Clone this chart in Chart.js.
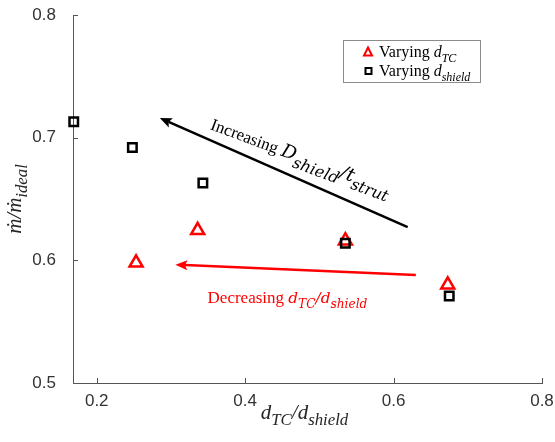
<!DOCTYPE html>
<html>
<head>
<meta charset="utf-8">
<script src="https://cdn.jsdelivr.net/npm/chart.js@4.4.1/dist/chart.umd.min.js"></script>
<style>
  html, body { margin: 0; padding: 0; background: #fff; }
  canvas { display: block; }
</style>
</head>
<body>
<canvas id="chart" width="555" height="442"></canvas>
<script>
// axis ticks
const xTicks = [0.2, 0.4, 0.6, 0.8];
const yTicks = [0.5, 0.6, 0.7, 0.8];

// varying d_TC (red triangles)
const dtcRatio = [0.253, 0.336, 0.535, 0.673];
const dtcFlow = [0.598, 0.6245, 0.616, 0.580];

// varying d_shield (black squares)
const shieldRatio = [0.169, 0.248, 0.343, 0.535, 0.675];
const shieldFlow = [0.713, 0.692, 0.663, 0.614, 0.571];

// trend arrows, [x, y] in data units
const strutArrowFrom = [0.619, 0.627];
const strutArrowTo = [0.285, 0.716];
const tcArrowFrom = [0.630, 0.588];
const tcArrowTo = [0.306, 0.5965];

// annotation anchors, [x, y] in data units
const strutLabelAt = [0.352, 0.707];
const tcLabelAt = [0.457, 0.565];

const SERIF = '"Liberation Serif", "Times New Roman", serif';
const WIDE_MATH = '"DejaVu Serif", serif';

// text style: size, plain family, math family, math scale, subscript scale and drop
const strutStyle = { size: 17, family: SERIF, math: WIDE_MATH, mathScale: 1.1, sub: 0.85, drop: 0.4 };
const tcStyle = { size: 17, family: SERIF, math: WIDE_MATH, mathScale: 0.9, sub: 0.8, drop: 0.3 };
const titleStyle = { size: 21, family: SERIF, math: SERIF, mathScale: 1, sub: 0.8, drop: 0.3 };
const legendStyle = { size: 16, family: SERIF, math: SERIF, mathScale: 1, sub: 0.75, drop: 0.3 };

function partFont(p, st) {
    let s = p.sub ? st.size * st.sub : st.size;
    if (p.it) s *= st.mathScale;
    return (p.it ? 'italic ' : '') + s.toFixed(1) + 'px ' + (p.it ? st.math : st.family);
}

function richWidth(ctx, parts, st) {
    let w = 0;
    parts.forEach(p => {
        ctx.font = partFont(p, st);
        w += ctx.measureText(p.t).width;
    });
    return w;
}

// draws text with italic / subscript runs starting at x on baseline y
function drawRich(ctx, parts, x, y, st, color, align) {
    const total = richWidth(ctx, parts, st);
    let cx = align === 'center' ? x - total / 2 : x;
    ctx.fillStyle = color;
    ctx.textBaseline = 'alphabetic';
    ctx.textAlign = 'left';
    parts.forEach(p => {
        ctx.font = partFont(p, st);
        ctx.fillText(p.t, cx, p.sub ? y + st.size * st.drop : y);
        cx += ctx.measureText(p.t).width;
    });
}

function drawArrow(ctx, x0, y0, x1, y1, color, width) {
    const ang = Math.atan2(y1 - y0, x1 - x0);
    const head = 12, half = 5;
    ctx.save();
    ctx.strokeStyle = color;
    ctx.fillStyle = color;
    ctx.lineWidth = width;
    ctx.beginPath();
    ctx.moveTo(x0, y0);
    ctx.lineTo(x1 - Math.cos(ang) * head * 0.8, y1 - Math.sin(ang) * head * 0.8);
    ctx.stroke();
    ctx.translate(x1, y1);
    ctx.rotate(ang);
    ctx.beginPath();
    ctx.moveTo(0, 0);
    ctx.lineTo(-head, -half);
    ctx.lineTo(-head * 0.8, 0);
    ctx.lineTo(-head, half);
    ctx.closePath();
    ctx.fill();
    ctx.restore();
}

const annotations = {
    id: 'annotations',
    afterDraw(chart) {
        const { ctx, chartArea: area, scales: { x, y } } = chart;
        const px = p => [x.getPixelForValue(p[0]), y.getPixelForValue(p[1])];

        // inward tick marks on the left and bottom axes
        ctx.save();
        ctx.strokeStyle = '#555';
        ctx.lineWidth = 1;
        ctx.beginPath();
        xTicks.forEach(v => {
            const tx = Math.round(x.getPixelForValue(v)) + 0.5;
            ctx.moveTo(tx, area.bottom);
            ctx.lineTo(tx, area.bottom - 5);
        });
        yTicks.forEach(v => {
            const ty = Math.round(y.getPixelForValue(v)) + 0.5;
            ctx.moveTo(area.left, ty);
            ctx.lineTo(area.left + 5, ty);
        });
        ctx.stroke();
        ctx.restore();

        // axis titles
        drawRich(ctx, [
            { t: 'd', it: true }, { t: 'TC', it: true, sub: true },
            { t: '/', it: true },
            { t: 'd', it: true }, { t: 'shield', it: true, sub: true }
        ], (area.left + area.right) / 2 - 3, 419, titleStyle, '#262626', 'center');

        ctx.save();
        ctx.translate(21, (area.top + area.bottom) / 2);
        ctx.rotate(-Math.PI / 2);
        drawRich(ctx, [
            { t: '\u1e41', it: true }, { t: '/', it: true },
            { t: '\u1e41', it: true }, { t: 'ideal', it: true, sub: true }
        ], 0, 0, titleStyle, '#262626', 'center');
        ctx.restore();

        // trend arrows
        const [sx0, sy0] = px(strutArrowFrom), [sx1, sy1] = px(strutArrowTo);
        drawArrow(ctx, sx0, sy0, sx1, sy1, '#000', 2.5);
        const [tx0, ty0] = px(tcArrowFrom), [tx1, ty1] = px(tcArrowTo);
        drawArrow(ctx, tx0, ty0, tx1, ty1, '#ff0000', 2.5);

        // annotation above the black arrow, slightly flatter than the arrow
        const [lx, ly] = px(strutLabelAt);
        ctx.save();
        ctx.translate(lx, ly);
        ctx.rotate(Math.atan2(sy0 - sy1, sx0 - sx1) - 0.06);
        drawRich(ctx, [
            { t: 'Increasing ' }, { t: 'D', it: true }, { t: 'shield', it: true, sub: true },
            { t: '/', it: true }, { t: 't', it: true }, { t: 'strut', it: true, sub: true }
        ], 0, 0, strutStyle, '#000', 'left');
        ctx.restore();

        const [rx, ry] = px(tcLabelAt);
        drawRich(ctx, [
            { t: 'Decreasing ' }, { t: 'd', it: true }, { t: 'TC', it: true, sub: true },
            { t: '/', it: true }, { t: 'd', it: true }, { t: 'shield', it: true, sub: true }
        ], rx, ry, tcStyle, '#ff0000', 'center');

        // legend box
        const bx = area.right - 199, by = area.top + 25, bw = 137, bh = 42;
        ctx.save();
        ctx.strokeStyle = '#8c8c8c';
        ctx.lineWidth = 1;
        ctx.strokeRect(bx + 0.5, by + 0.5, bw, bh);

        ctx.lineWidth = 2;
        ctx.strokeStyle = '#ff0000';
        ctx.beginPath();
        ctx.moveTo(bx + 25, by + 7.5);
        ctx.lineTo(bx + 29, by + 15.5);
        ctx.lineTo(bx + 21, by + 15.5);
        ctx.closePath();
        ctx.stroke();

        ctx.strokeStyle = '#000';
        ctx.strokeRect(bx + 22.5, by + 28, 6, 6);
        ctx.restore();

        drawRich(ctx, [{ t: 'Varying ' }, { t: 'd', it: true }, { t: 'TC', it: true, sub: true }],
            bx + 36, by + 17, legendStyle, '#000', 'left');
        drawRich(ctx, [{ t: 'Varying ' }, { t: 'd', it: true }, { t: 'shield', it: true, sub: true }],
            bx + 36, by + 36, legendStyle, '#000', 'left');
    }
};

const tickFont = { family: '"Liberation Sans", Arial, sans-serif', size: 17 };

new Chart(document.getElementById('chart'), {
    type: 'scatter',
    data: {
        datasets: [
            {
                label: 'Varying d_TC',
                data: dtcRatio.map((v, i) => ({ x: v, y: dtcFlow[i] })),
                pointStyle: 'triangle',
                pointRadius: 7.5,
                pointBorderWidth: 2.5,
                borderColor: '#ff0000',
                backgroundColor: 'rgba(0,0,0,0)',
                order: 2,
                clip: false
            },
            {
                label: 'Varying d_shield',
                data: shieldRatio.map((v, i) => ({ x: v, y: shieldFlow[i] })),
                pointStyle: 'rect',
                pointRadius: 6,
                pointBorderWidth: 2.5,
                borderColor: '#000',
                backgroundColor: 'rgba(0,0,0,0)',
                order: 1,
                clip: false
            }
        ]
    },
    options: {
        responsive: false,
        animation: false,
        devicePixelRatio: 1,
        events: [],
        layout: { padding: { top: 15, right: 13, left: 0, bottom: 0 } },
        plugins: { legend: { display: false }, tooltip: { enabled: false } },
        scales: {
            x: {
                type: 'linear',
                min: 0.168,
                max: 0.8,
                afterBuildTicks: s => { s.ticks = xTicks.map(v => ({ value: v })); },
                afterFit: s => { s.height = 59; s.paddingLeft = 0; s.paddingRight = 0; },
                grid: { display: false, drawTicks: false },
                border: { display: true, color: '#555', width: 1 },
                ticks: { padding: 8, font: tickFont, color: '#333', callback: v => v.toFixed(1) }
            },
            y: {
                type: 'linear',
                min: 0.5,
                max: 0.8,
                afterBuildTicks: s => { s.ticks = yTicks.map(v => ({ value: v })); },
                afterFit: s => { s.width = 73; s.paddingTop = 0; s.paddingBottom = 0; },
                grid: { display: false, drawTicks: false },
                border: { display: true, color: '#555', width: 1 },
                ticks: { padding: 17, font: tickFont, color: '#333', callback: v => v.toFixed(1) }
            }
        }
    },
    plugins: [annotations]
});
</script>
</body>
</html>
